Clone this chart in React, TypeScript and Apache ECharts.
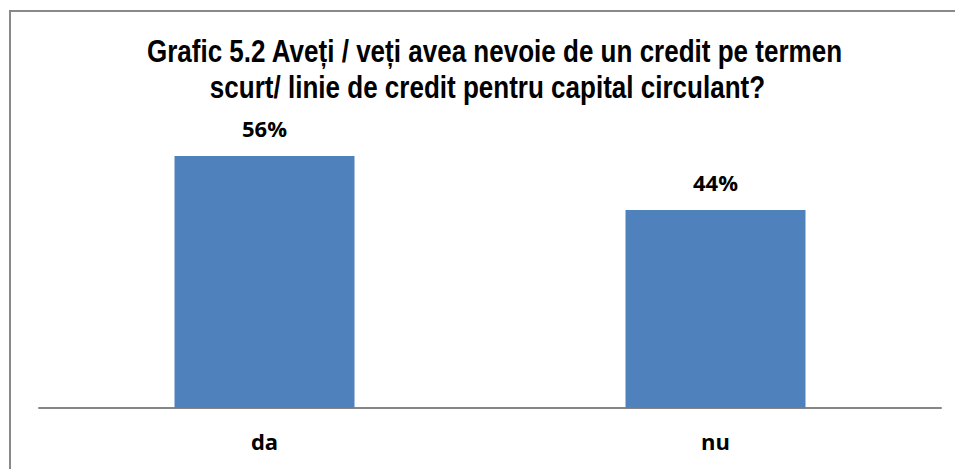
import React, { useEffect, useRef } from "react";
import * as echarts from "echarts";

const titleLines = [
  "Grafic 5.2 Aveți / veți avea nevoie de un credit pe termen",
  "scurt/ linie de credit pentru capital circulant?",
];
const categories = ["da", "nu"];
const values = [56, 44];

const titleFont = "bold 31px 'Liberation Sans', Arial, sans-serif";

export default function App() {
  const ref = useRef<HTMLDivElement>(null);
  useEffect(() => {
    if (!ref.current) return;
    const chart = echarts.init(ref.current, null, { renderer: "svg" });
    chart.setOption({
      animation: false,
      backgroundColor: "#ffffff",
      graphic: [
        {
          type: "rect",
          shape: { x: 10, y: 11, width: 2000, height: 2000 },
          style: { fill: "none", stroke: "#898989", lineWidth: 2 },
          silent: true,
        },
        {
          type: "text",
          x: 494.5,
          y: 51,
          scaleX: 0.84,
          style: {
            text: titleLines[0],
            font: titleFont,
            fill: "#000000",
            align: "center",
            verticalAlign: "middle",
          },
        },
        {
          type: "text",
          x: 487.5,
          y: 87,
          scaleX: 0.84,
          style: {
            text: titleLines[1],
            font: titleFont,
            fill: "#000000",
            align: "center",
            verticalAlign: "middle",
          },
        },
      ],
      grid: { left: 39, right: 14, top: 138, bottom: 61 },
      xAxis: {
        type: "category",
        data: categories,
        axisLine: { show: true, lineStyle: { color: "#868686", width: 2 } },
        axisTick: { show: false },
        axisLabel: {
          margin: 22,
          color: "#000000",
          fontFamily: "'Open Sans', sans-serif",
          fontWeight: "bold",
          fontSize: 22,
        },
      },
      yAxis: {
        type: "value",
        min: 0,
        max: 60,
        show: false,
        splitLine: { show: false },
      },
      series: [
        {
          type: "bar",
          data: values,
          barWidth: 180,
          itemStyle: { color: "#4F81BD" },
          label: {
            show: true,
            position: "top",
            distance: 17,
            formatter: "{c}%",
            color: "#000000",
            fontFamily: "'Open Sans', sans-serif",
            fontWeight: "bold",
            fontSize: 22,
          },
        },
      ],
    });
    return () => chart.dispose();
  }, []);
  return (
    <div
      ref={ref}
      style={{ position: "absolute", left: 0, top: 0, width: 955, height: 469 }}
    />
  );
}
